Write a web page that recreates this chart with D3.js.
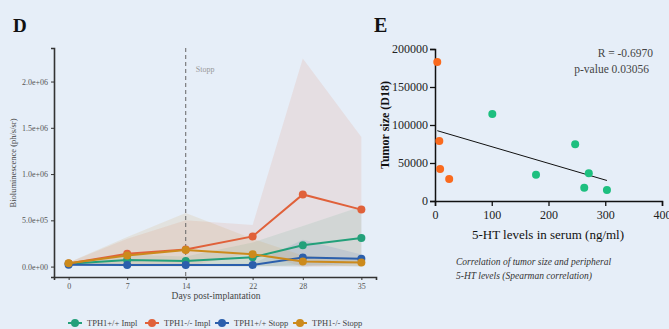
<!DOCTYPE html>
<html>
<head>
<meta charset="utf-8">
<script src="https://cdn.jsdelivr.net/npm/d3@7"></script>
<style>
  body { margin: 0; background: #e6eef8; }
  svg { display: block; font-family: "Liberation Serif", "DejaVu Serif", serif; }
</style>
</head>
<body>
<svg width="669" height="329"></svg>
<script>
// panel D: bioluminescence over time
const days = [0, 7, 14, 22, 28, 35];
const seriesNames = ['TPH1+/+ Impl', 'TPH1-/- Impl', 'TPH1+/+ Stopp', 'TPH1-/- Stopp'];
const seriesColors = ['#23a07a', '#e0613a', '#2b5fac', '#cc8a1c'];
const greenImpl = [30000, 70000, 60000, 100000, 230000, 310000];
const greenImplHi = [40000, 130000, 110000, 260000, 440000, 650000];
const greenImplLo = [20000, 10000, 10000, 0, 20000, 0];
const orangeImpl = [33000, 138000, 185000, 326000, 780000, 616000];
const orangeImplHi = [45000, 300000, 500000, 450000, 2250000, 1400000];
const orangeImplLo = [20000, 20000, 0, 150000, 0, 0];
const blueStopp = [20000, 18000, 18000, 18000, 98000, 84000];
const blueStoppHi = [30000, 30000, 30000, 30000, 290000, 130000];
const blueStoppLo = [10000, 10000, 10000, 10000, 0, 40000];
const goldStopp = [35000, 120000, 180000, 134000, 54000, 43000];
const goldStoppHi = [45000, 320000, 580000, 300000, 120000, 80000];
const goldStoppLo = [25000, 0, 0, 0, 0, 10000];
const yTicksD = [0, 500000, 1000000, 1500000, 2000000];
const yTickLabelsD = ['0.0e+00', '5.0e+05', '1.0e+06', '1.5e+06', '2.0e+06'];
const stoppDay = 14;

// panel E: tumor size vs serum 5-HT
const koSerum = [4, 7.6, 9, 25];
const koTumor = [183000, 79000, 42000, 29000];
const wtSerum = [101, 178, 247, 271, 263, 303];
const wtTumor = [114500, 34600, 74600, 36400, 17500, 14500];
const xTicksE = [0, 100, 200, 300, 400];
const yTicksE = [0, 50000, 100000, 150000, 200000];

const svg = d3.select('svg');

// ---------- panel D ----------
const series = [
  { name: seriesNames[0], color: seriesColors[0], mean: greenImpl, hi: greenImplHi, lo: greenImplLo },
  { name: seriesNames[1], color: seriesColors[1], mean: orangeImpl, hi: orangeImplHi, lo: orangeImplLo },
  { name: seriesNames[2], color: seriesColors[2], mean: blueStopp, hi: blueStoppHi, lo: blueStoppLo },
  { name: seriesNames[3], color: seriesColors[3], mean: goldStopp, hi: goldStoppHi, lo: goldStoppLo }
];

const yMax = d3.max(series, s => d3.max(s.hi));
const yMin = 0;
const pad = (yMax - yMin) * 0.05;
const xD = d3.scaleLinear().domain([-1.75, 36.75]).range([54, 376]);
const yD = d3.scaleLinear().domain([yMin - pad, yMax + pad]).range([277, 48]);

svg.append('text').attr('x', 13).attr('y', 32)
  .attr('font-size', 19).attr('font-weight', 'bold').attr('fill', '#111').text('D');

const gD = svg.append('g');

const area = d3.area()
  .x((d, i) => xD(days[i]))
  .y0(d => yD(d[0]))
  .y1(d => yD(d[1]));

series.forEach(s => {
  gD.append('path')
    .datum(s.lo.map((v, i) => [v, s.hi[i]]))
    .attr('d', area)
    .attr('fill', s.color)
    .attr('fill-opacity', 0.11);
});

gD.append('line')
  .attr('x1', xD(stoppDay)).attr('x2', xD(stoppDay))
  .attr('y1', 48).attr('y2', 277)
  .attr('stroke', '#666').attr('stroke-width', 1)
  .attr('stroke-dasharray', '4,3');
gD.append('text').attr('x', xD(stoppDay) + 10).attr('y', 72)
  .attr('font-size', 8).attr('fill', '#999').text('Stopp');

const line = d3.line().x((d, i) => xD(days[i])).y(d => yD(d));
series.forEach(s => {
  gD.append('path').datum(s.mean).attr('d', line)
    .attr('fill', 'none').attr('stroke', s.color).attr('stroke-width', 2);
  gD.selectAll(null).data(s.mean).enter().append('circle')
    .attr('cx', (d, i) => xD(days[i])).attr('cy', d => yD(d))
    .attr('r', 4).attr('fill', s.color);
});

const axD = gD.append('g').attr('transform', 'translate(0,277)')
  .call(d3.axisBottom(xD).tickValues(days).tickSize(3).tickPadding(3));
const ayD = gD.append('g').attr('transform', 'translate(54,0)')
  .call(d3.axisLeft(yD).tickValues(yTicksD).tickFormat((d, i) => yTickLabelsD[i]).tickSize(3).tickPadding(3));
[axD, ayD].forEach(a => {
  a.select('.domain').attr('stroke', '#333').attr('stroke-width', 1.6);
  a.selectAll('.tick line').attr('stroke', '#333');
  a.selectAll('.tick text').attr('font-size', 8).attr('fill', '#555')
    .attr('font-family', '"Liberation Serif", serif');
});

svg.append('text').attr('x', 216).attr('y', 299).attr('text-anchor', 'middle')
  .attr('font-size', 9.5).attr('fill', '#444').text('Days post-implantation');
svg.append('text').attr('transform', 'translate(16,163) rotate(-90)')
  .attr('text-anchor', 'middle').attr('font-size', 8.5).attr('fill', '#444')
  .text('Bioluminescence (ph/s/sr)');

// legend
const legendX = [75, 152, 222, 300];
const legend = svg.append('g');
series.forEach((s, i) => {
  const g = legend.append('g').attr('transform', `translate(${legendX[i]},323)`);
  g.append('line').attr('x1', -7).attr('x2', 7).attr('stroke', s.color).attr('stroke-width', 2);
  g.append('circle').attr('r', 4).attr('fill', s.color);
  g.append('text').attr('x', 12).attr('y', 3).attr('font-size', 8.5).attr('fill', '#444').text(s.name);
});

// ---------- panel E ----------
const xE = d3.scaleLinear().domain([0, 400]).range([435, 662]);
const yE = d3.scaleLinear().domain([0, 200000]).range([201, 49]);

svg.append('text').attr('x', 374).attr('y', 32)
  .attr('font-size', 20).attr('font-weight', 'bold').attr('fill', '#111').text('E');

const gE = svg.append('g');
const axE = gE.append('g').attr('transform', 'translate(0,201)')
  .call(d3.axisBottom(xE).tickValues(xTicksE).tickSize(5).tickPadding(4).tickFormat(d3.format('d')));
const ayE = gE.append('g').attr('transform', 'translate(435,0)')
  .call(d3.axisLeft(yE).tickValues(yTicksE).tickSize(5).tickPadding(2).tickFormat(d3.format('d')));
[axE, ayE].forEach(a => {
  a.select('.domain').attr('stroke', '#111').attr('stroke-width', 1.5);
  a.selectAll('.tick line').attr('stroke', '#111').attr('stroke-width', 1.3);
  a.selectAll('.tick text').attr('font-size', 12).attr('fill', '#222')
    .attr('font-family', '"Liberation Serif", serif');
});

// least squares fit over all points
const allX = koSerum.concat(wtSerum);
const allY = koTumor.concat(wtTumor);
const mx = d3.mean(allX), my = d3.mean(allY);
const slope = d3.sum(allX, (x, i) => (x - mx) * (allY[i] - my)) / d3.sum(allX, x => (x - mx) ** 2);
const intercept = my - slope * mx;
const [fx0, fx1] = d3.extent(allX);
gE.append('line')
  .attr('x1', xE(fx0)).attr('y1', yE(intercept + slope * fx0))
  .attr('x2', xE(fx1)).attr('y2', yE(intercept + slope * fx1))
  .attr('stroke', '#111').attr('stroke-width', 1);

gE.selectAll('.ko').data(koSerum).enter().append('circle')
  .attr('cx', d => xE(d)).attr('cy', (d, i) => yE(koTumor[i]))
  .attr('r', 4).attr('fill', '#fa6a1e');
gE.selectAll('.wt').data(wtSerum).enter().append('circle')
  .attr('cx', d => xE(d)).attr('cy', (d, i) => yE(wtTumor[i]))
  .attr('r', 4).attr('fill', '#1dbf7f');

gE.append('text').attr('x', 653).attr('y', 57).attr('text-anchor', 'end')
  .attr('font-size', 11.5).attr('fill', '#444').text('R = -0.6970');
gE.append('text').attr('x', 649).attr('y', 73).attr('text-anchor', 'end')
  .attr('font-size', 11.5).attr('fill', '#444').text('p-value 0.03056');

svg.append('text').attr('x', 548).attr('y', 239).attr('text-anchor', 'middle')
  .attr('font-size', 13).attr('fill', '#111').text('5-HT levels in serum (ng/ml)');
svg.append('text').attr('transform', 'translate(389,125) rotate(-90)')
  .attr('text-anchor', 'middle').attr('font-size', 12).attr('font-weight', 'bold')
  .attr('fill', '#111').text('Tumor size (D18)');

svg.append('text').attr('x', 456).attr('y', 265).attr('font-size', 9.5)
  .attr('font-style', 'italic').attr('fill', '#333').text('Correlation of  tumor size and peripheral');
svg.append('text').attr('x', 456).attr('y', 279).attr('font-size', 9.5)
  .attr('font-style', 'italic').attr('fill', '#333').text('5-HT levels (Spearman correlation)');
</script>
</body>
</html>
